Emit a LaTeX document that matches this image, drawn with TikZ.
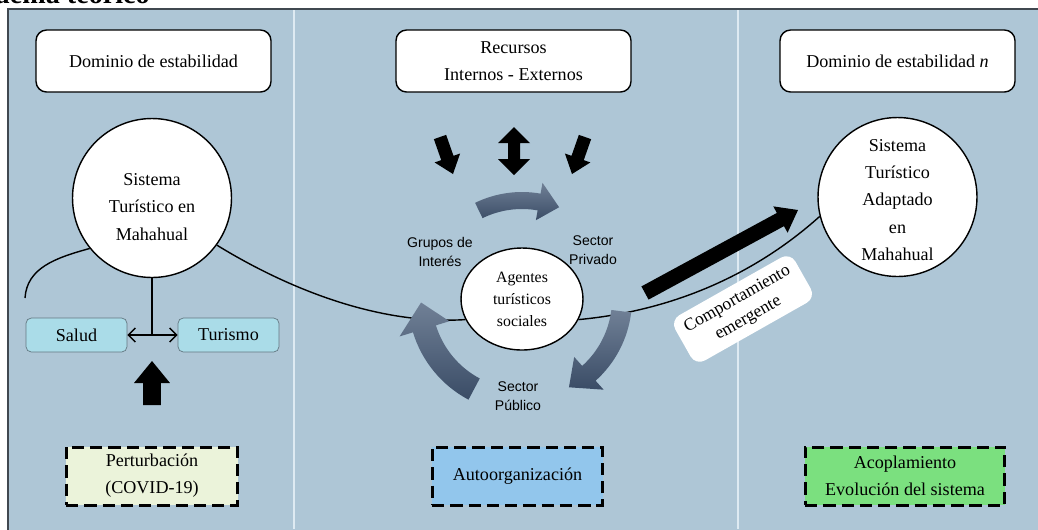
\documentclass[tikz,border=0pt]{standalone}
\usepackage{fontspec}
\setmainfont{Liberation Serif}
\newfontfamily\sectorfont{Liberation Sans}
\usetikzlibrary{shapes,arrows,arrows.meta,positioning,calc}
\definecolor{panel-bg}{RGB}{174,198,214}
\definecolor{panel-fr}{RGB}{64,72,80}
\definecolor{panel-sep}{RGB}{222,234,242}
\definecolor{sub-fill}{RGB}{170,220,232}
\definecolor{sub-draw}{RGB}{100,120,130}
\definecolor{ring-top}{RGB}{112,128,150}
\definecolor{ring-bot}{RGB}{58,76,102}
\definecolor{pert-fill}{RGB}{235,243,218}
\definecolor{auto-fill}{RGB}{146,198,236}
\definecolor{acop-fill}{RGB}{123,224,127}
\tikzstyle{txt}=[font=\fontsize{10.3}{15.5}\selectfont,align=center]
\tikzstyle{rbox}=[txt,draw,rounded corners=6pt,fill=white,line width=0.8pt,minimum width=4.7cm,minimum height=1.24cm]
\tikzstyle{state}=[txt,draw,circle,fill=white,line width=0.8pt,minimum size=3.18cm,inner sep=0pt]
\tikzstyle{sub}=[txt,draw=sub-draw,rounded corners=3pt,fill=sub-fill,minimum width=2.02cm,minimum height=0.68cm]
\tikzstyle{sector}=[font=\sectorfont\fontsize{8}{10.8}\selectfont,align=center]
\tikzstyle{phase}=[txt,draw,dashed,line width=1.7pt,dash pattern=on 7pt off 3.4pt,minimum height=1.16cm]
\tikzstyle{link}=[draw,line width=0.8pt]

% block arrow: tail, tip, shaft half width, head half width, head length
\newcommand{\blockarrow}[5]{%
  \coordinate (ba-h) at ($(#2)!#5!(#1)$);
  \fill ($(#1)!#3!90:(#2)$) -- ($(ba-h)!#3!90:(#2)$) -- ($(ba-h)!#4!90:(#2)$) -- (#2)
    -- ($(ba-h)!#4!-90:(#2)$) -- ($(ba-h)!#3!-90:(#2)$) -- ($(#1)!#3!-90:(#2)$) -- cycle;
}
% curved arrow round the agents: from, to, tip angle, r in, r out, head in, head out, tip r
\newcommand{\ringarrow}[8]{%
  \shade[top color=ring-top,bottom color=ring-bot]
    ($(ring)+(#1:#5)$) arc[start angle=#1,end angle=#2,radius=#5]
    -- ($(ring)+(#2:#7)$) -- ($(ring)+(#3:#8)$) -- ($(ring)+(#2:#6)$)
    -- ($(ring)+(#2:#4)$) arc[start angle=#2,end angle=#1,radius=#4] -- cycle;
}

\begin{document}
\begin{tikzpicture}[x=0.02cm,y=-0.02cm]
  \useasboundingbox (0,0) rectangle (1038,529);
  \fill[white] (0,0) rectangle (1038,529);

  % caption, cut off at the top
  \begin{scope}
    \clip (0,0) rectangle (1038,529);
    \node[anchor=base east,inner sep=0pt,font=\fontsize{16}{18}\selectfont\bfseries] (caption) at (150,3) {Esquema teórico};
  \end{scope}

  % panels
  \fill[panel-bg] (8,9) rectangle (1040,531);
  \draw[panel-fr,line width=1pt] (8,531) -- (8,9) -- (1040,9);
  \draw[panel-sep,line width=0.8pt] (294,10) -- (294,529);
  \draw[panel-sep,line width=0.8pt] (738,10) -- (738,529);

  % headings
  \node[rbox] (dom1) at (153.5,61) {Dominio de estabilidad};
  \node[rbox] (rec) at (513.5,61) {Recursos\\Internos - Externos};
  \node[rbox] (domn) at (897.5,61) {Dominio de estabilidad \textit{n}};

  % states
  \node[state] (sys) at (152,198) {};
  \node[txt] (systxt) at (152,207) {Sistema\\Turístico en\\Mahahual};
  \node[state] (sta) at (897.5,197) {};
  \node[txt] (statxt) at (897.5,200) {Sistema\\Turístico\\Adaptado\\en\\Mahahual};
  \node[draw,ellipse,fill=white,line width=0.8pt,inner sep=0pt,minimum width=2.44cm,minimum height=2.04cm,
    align=center,font=\fontsize{9}{12.6}\selectfont] (ag) at (522,299) {Agentes\\turísticos\\sociales};

  % trajectory
  \coordinate (start) at (25,298);
  \draw[link] (start) .. controls (27,268) and (55,258) .. (sys.219);
  \draw[link] (sys.324) .. controls (290,290) and (380,325) .. (ag.200);
  \draw[link] (ag.-20) .. controls (680,310) and (760,270) .. (sta.194);

  % perturbed subsystems
  \node[sub] (salud) at (76.5,335) {Salud};
  \node[sub] (tur) at (228.5,335) {Turismo};
  \draw[link] (sys.south) -- (sys.south|-salud);
  \draw[link,{Straight Barb[length=4pt,width=8pt]}-{Straight Barb[length=4pt,width=8pt]}] (salud) -- (tur);
  \coordinate (pt) at (152,405);
  \coordinate (pp) at (152,361);
  \blockarrow{pt}{pp}{0.18cm}{0.36cm}{0.44cm}

  % resources
  \coordinate (r1t) at (440,137);
  \coordinate (r1p) at (453,174);
  \coordinate (r3t) at (585,137);
  \coordinate (r3p) at (572,174);
  \blockarrow{r1t}{r1p}{0.13cm}{0.27cm}{0.34cm}
  \blockarrow{r3t}{r3p}{0.13cm}{0.27cm}{0.34cm}
  \fill (514,127) -- (530,143) -- (520,143) -- (520,159) -- (530,159) -- (514,175)
    -- (498,159) -- (508,159) -- (508,143) -- (498,143) -- cycle;

  % self-organisation cycle
  \coordinate (ring) at (522,299);
  \ringarrow{-116}{-80}{-68}{90}{107}{80}{118}{99}
  \ringarrow{7}{48}{62}{90}{110}{78}{122}{100}
  \ringarrow{118}{163}{178}{90}{114}{76}{128}{101}
  \node[sector] (grupos) at (440,252) {Grupos de\\Interés};
  \node[sector] (priv) at (593,250) {Sector\\Privado};
  \node[sector] (pub) at (518,396) {Sector\\Público};

  % emergence
  \coordinate (et) at (645,293);
  \coordinate (ep) at (798,210);
  \blockarrow{et}{ep}{0.15cm}{0.3cm}{0.4cm}
  \node[txt,fill=white,rounded corners=6pt,rotate=29.5,minimum width=2.76cm,minimum height=1.04cm,
    font=\fontsize{10}{12.5}\selectfont] (emer) at (743,309) {Comportamiento\\emergente};

  % phases
  \node[phase,fill=pert-fill,minimum width=3.44cm] (pert) at (152,476) {Perturbación\\(COVID-19)};
  \node[phase,fill=auto-fill,minimum width=3.42cm] (auto) at (517.5,476) {Autoorganización};
  \node[phase,fill=acop-fill,minimum width=4cm] (acop) at (905,476) {Acoplamiento\\Evolución del sistema};
\end{tikzpicture}
\end{document}
